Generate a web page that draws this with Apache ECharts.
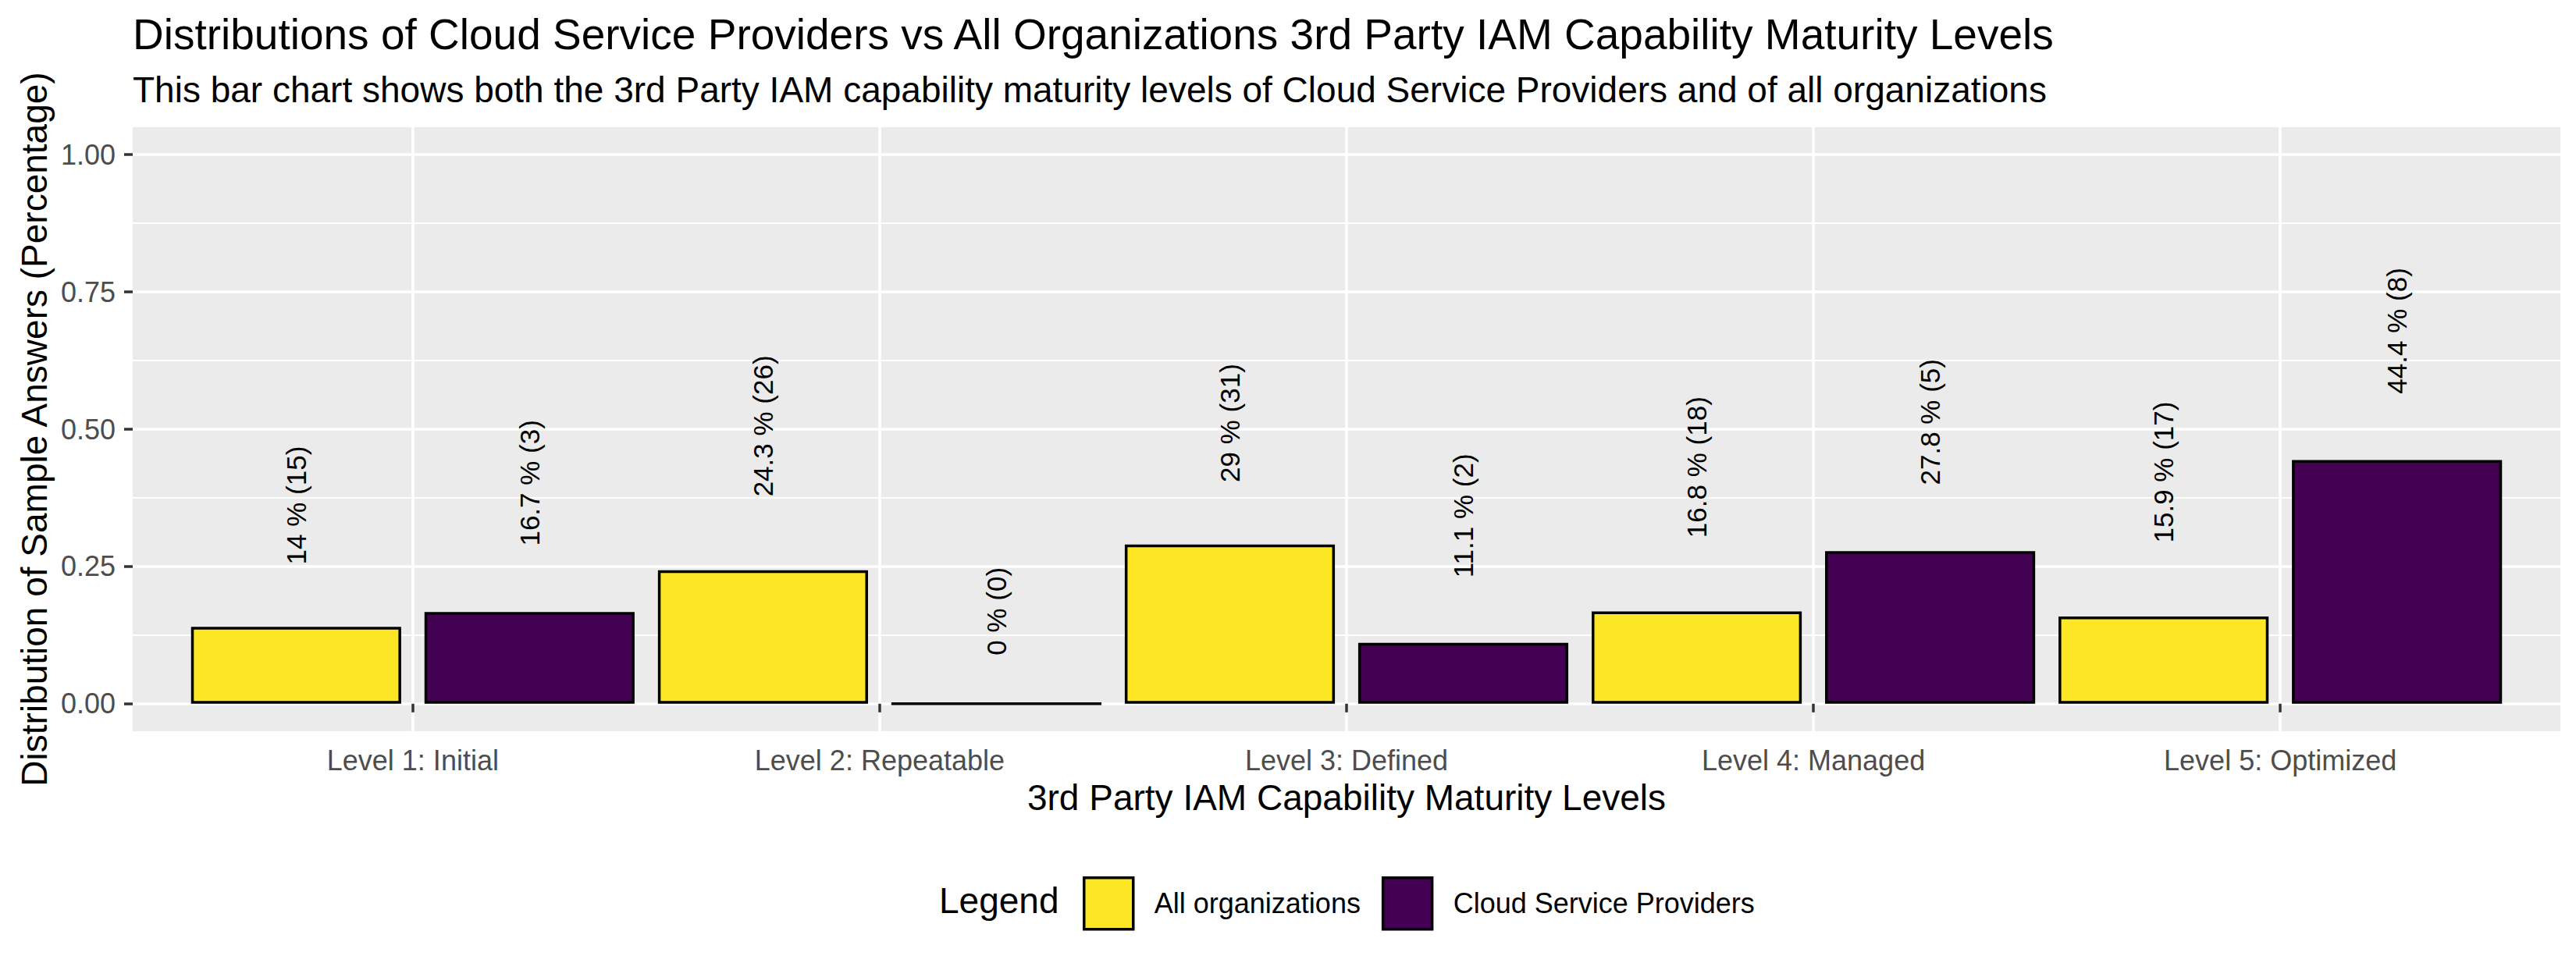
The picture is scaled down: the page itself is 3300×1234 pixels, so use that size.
<!DOCTYPE html>
<html>
<head>
<meta charset="utf-8">
<script src="https://cdn.jsdelivr.net/npm/echarts@6/dist/echarts.min.js"></script>
<style>
  html, body { margin: 0; padding: 0; background: #fff; }
  #chart { width: 3300px; height: 1234px; }
</style>
</head>
<body>
<div id="chart"></div>
<script>
var levels = ['Level 1: Initial', 'Level 2: Repeatable', 'Level 3: Defined', 'Level 4: Managed', 'Level 5: Optimized'];
var levelPos = [1, 2, 3, 4, 5];
var allOrgShare = [0.14, 0.243, 0.29, 0.168, 0.159];
var allOrgCount = [15, 26, 31, 18, 17];
var cspShare = [0.167, 0, 0.111, 0.278, 0.444];
var cspCount = [3, 0, 2, 5, 8];
var yTicks = [0, 0.25, 0.5, 0.75, 1];
var yMinor = [0.125, 0.375, 0.625, 0.875];

var font = '"Liberation Sans", Arial, sans-serif';
var yellow = '#FDE725';
var purple = '#440154';

// ggplot puts the text at hjust = -0.5, so the gap grows with the label length
var ctx = document.createElement('canvas').getContext('2d');
ctx.font = '35px "Liberation Sans"';

function labelText(share, count) {
  return (Math.round(share * 1000) / 10) + ' % (' + count + ')';
}

function buildData(shares, counts) {
  return shares.map(function(v, i) {
    var txt = labelText(v, counts[i]);
    return {
      value: [levelPos[i], v],
      label: { distance: ctx.measureText(txt).width * 0.5 + 4, formatter: txt }
    };
  });
}

var barLabel = {
  show: true,
  position: 'top',
  rotate: 90,
  align: 'left',
  verticalAlign: 'middle',
  color: '#000',
  fontSize: 35,
  fontFamily: font
};

var chart = echarts.init(document.getElementById('chart'), null, { renderer: 'svg' });
chart.setOption({
  animation: false,
  textStyle: { fontFamily: font },
  title: [
    {
      text: 'Distributions of Cloud Service Providers vs All Organizations 3rd Party IAM Capability Maturity Levels',
      left: 170, top: 16, padding: 0,
      textStyle: { fontSize: 55, fontWeight: 'normal', color: '#000', fontFamily: font }
    },
    {
      text: 'This bar chart shows both the 3rd Party IAM capability maturity levels of Cloud Service Providers and of all organizations',
      left: 170, top: 92, padding: 0,
      textStyle: { fontSize: 46, fontWeight: 'normal', color: '#000', fontFamily: font }
    },
    {
      text: 'Legend',
      left: 1203, top: 1131, padding: 0,
      textStyle: { fontSize: 46, fontWeight: 'normal', color: '#000', fontFamily: font }
    }
  ],
  legend: {
    left: 1382, top: 1118,
    icon: 'rect',
    itemWidth: 63, itemHeight: 66,
    itemGap: 27,
    itemStyle: { borderColor: '#000', borderWidth: 3.5 },
    textStyle: { fontSize: 36, color: '#000', fontFamily: font, padding: [0, 0, 0, 22] },
    data: ['All organizations', 'Cloud Service Providers']
  },
  grid: {
    left: 170, right: 20, top: 163, bottom: 297,
    show: true, backgroundColor: '#EBEBEB', borderWidth: 0
  },
  xAxis: {
    type: 'value',
    min: 0.4, max: 5.6,
    name: '3rd Party IAM Capability Maturity Levels',
    nameLocation: 'middle',
    nameGap: 62,
    nameTextStyle: { fontSize: 46, color: '#000', fontFamily: font },
    axisLine: { show: false },
    axisTick: { show: true, customValues: levelPos, length: 11, lineStyle: { color: '#333333', width: 3.5 } },
    axisLabel: {
      customValues: levelPos, margin: 19, fontSize: 36, color: '#4D4D4D',
      formatter: function(v) { return levels[Math.round(v) - 1]; }
    },
    splitLine: { show: true, lineStyle: { color: '#fff', width: 3.5 } }
  },
  yAxis: [
    {
      type: 'value',
      min: -0.05, max: 1.05,
      name: 'Distribution of Sample Answers (Percentage)',
      nameLocation: 'middle',
      nameRotate: 90,
      nameGap: 103,
      nameTextStyle: { fontSize: 46, color: '#000', fontFamily: font },
      axisLine: { show: false },
      axisTick: { show: true, customValues: yTicks, length: 11, lineStyle: { color: '#333333', width: 3.5 } },
      axisLabel: {
        customValues: yTicks, margin: 22, fontSize: 36, color: '#4D4D4D',
        formatter: function(v) { return v.toFixed(2); }
      },
      splitLine: { show: true, lineStyle: { color: '#fff', width: 3.5 } }
    },
    {
      // minor grid lines only
      type: 'value',
      min: -0.05, max: 1.05,
      position: 'left',
      axisLine: { show: false },
      axisTick: { show: false, customValues: yMinor },
      axisLabel: { show: false },
      splitLine: { show: true, lineStyle: { color: '#fff', width: 1.8 } }
    }
  ],
  series: [
    {
      name: 'All organizations',
      type: 'bar',
      barWidth: '45%',
      barGap: '11.1%',
      itemStyle: { color: yellow, borderColor: '#000', borderWidth: 3.5 },
      label: barLabel,
      data: buildData(allOrgShare, allOrgCount)
    },
    {
      name: 'Cloud Service Providers',
      type: 'bar',
      barWidth: '45%',
      barGap: '11.1%',
      itemStyle: { color: purple, borderColor: '#000', borderWidth: 3.5 },
      label: barLabel,
      data: buildData(cspShare, cspCount)
    }
  ]
});
</script>
</body>
</html>
